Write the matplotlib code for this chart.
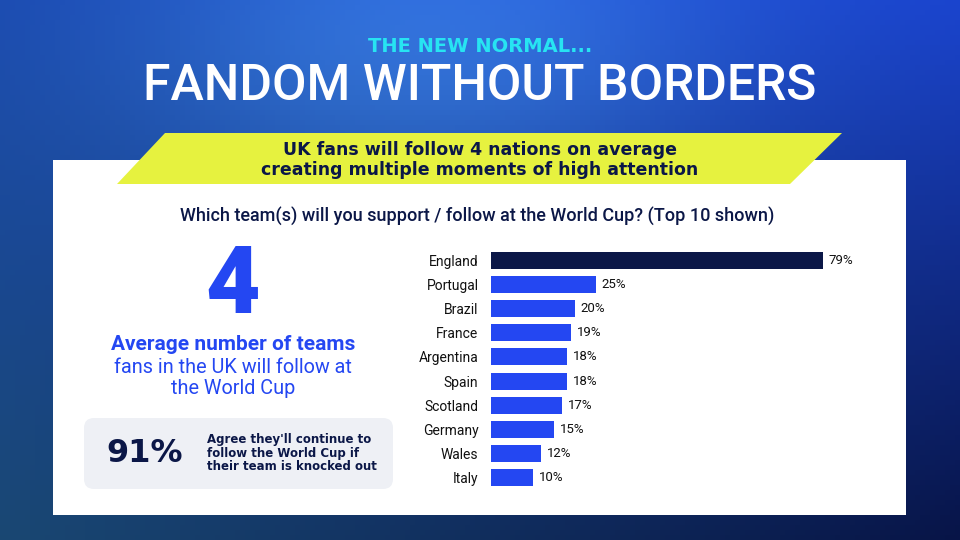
import numpy as np
import matplotlib
matplotlib.use("Agg")
import matplotlib.pyplot as plt
from matplotlib.patches import Polygon, FancyBboxPatch, Rectangle

# data
teams = ["England", "Portugal", "Brazil", "France", "Argentina",
         "Spain", "Scotland", "Germany", "Wales", "Italy"]
shares = [79, 25, 20, 19, 18, 18, 17, 15, 12, 10]

kicker = "THE NEW NORMAL..."
title = "FANDOM WITHOUT BORDERS"
banner = "UK fans will follow 4 nations on average\ncreating multiple moments of high attention"
question = "Which team(s) will you support / follow at the World Cup? (Top 10 shown)"
big_number = "4"
avg_bold = "Average number of teams"
avg_rest = "fans in the UK will follow at\nthe World Cup"
stat_value = "91%"
stat_text = "Agree they'll continue to\nfollow the World Cup if\ntheir team is knocked out"

NAVY = "#0b1747"
BLUE = "#2447f2"
W, H = 960, 540

plt.rcParams["font.family"] = ["Roboto", "DejaVu Sans"]

fig = plt.figure(figsize=(9.6, 5.4), dpi=100)

# full-figure canvas in pixel coordinates
bg = fig.add_axes([0, 0, 1, 1])
bg.set_xlim(0, W)
bg.set_ylim(H, 0)
bg.axis("off")

# background gradient: bright blue top middle, dark navy bottom right
yy, xx = np.mgrid[0:1:108j, 0:1:192j]
c_tl = np.array([0.10, 0.28, 0.68])
c_tr = np.array([0.10, 0.26, 0.80])
c_bl = np.array([0.10, 0.28, 0.45])
c_br = np.array([0.03, 0.08, 0.28])
img = ((1 - xx)[..., None] * (1 - yy)[..., None] * c_tl
       + xx[..., None] * (1 - yy)[..., None] * c_tr
       + (1 - xx)[..., None] * yy[..., None] * c_bl
       + xx[..., None] * yy[..., None] * c_br)
glow = np.exp(-(((xx - 0.45) / 0.32) ** 2 + ((yy - 0.08) / 0.3) ** 2))
img = img + glow[..., None] * np.array([0.10, 0.18, 0.15])
bg.imshow(np.clip(img, 0, 1), extent=[0, W, H, 0], aspect="auto", zorder=0)

# white panel
bg.add_patch(Rectangle((53, 160), 853, 355, facecolor="white", edgecolor="none", zorder=1))

# yellow banner
bg.add_patch(Polygon([(165, 133), (842, 133), (790, 184), (117, 184)],
                     closed=True, facecolor="#e6f23f", edgecolor="none", zorder=2))

# headings
bg.text(480, 46, kicker, ha="center", va="center", color="#27e4f2",
        fontsize=14, fontweight="bold", family=["DejaVu Sans"], zorder=3)
bg.text(480, 86, title, ha="center", va="center", color="white",
        fontsize=36, fontweight="medium", zorder=3)
bg.text(480, 160, banner, ha="center", va="center", color=NAVY,
        fontsize=12.5, fontweight="bold", linespacing=1.15,
        family=["DejaVu Sans"], zorder=3)
bg.text(477, 216, question, ha="center", va="center", color=NAVY,
        fontsize=13, fontweight="medium", zorder=3)

# left side stats
bg.text(233, 287, big_number, ha="center", va="center", color=BLUE,
        fontsize=68, fontweight="black", zorder=3)
bg.text(233, 345, avg_bold, ha="center", va="center", color=BLUE,
        fontsize=15, fontweight="bold", zorder=3)
bg.text(233, 378, avg_rest, ha="center", va="center", color=BLUE,
        fontsize=14.3, linespacing=1.1, zorder=3)

bg.add_patch(FancyBboxPatch((84, 418), 309, 71, boxstyle="round,pad=0,rounding_size=10",
                            facecolor="#eef0f5", edgecolor="none", zorder=2))
bg.text(145, 453, stat_value, ha="center", va="center", color=NAVY,
        fontsize=23, fontweight="bold", family=["DejaVu Sans"], zorder=3)
bg.text(207, 453, stat_text, ha="left", va="center", color=NAVY,
        fontsize=8.5, fontweight="bold", linespacing=1.0,
        family=["DejaVu Sans"], zorder=3)

# bar chart
ax = fig.add_axes([491 / W, 1 - 490 / H, 420 / W, 242 / H])
ax.set_xlim(0, 100)
ax.set_ylim(len(teams) - 0.5, -0.5)
colors = [NAVY] + [BLUE] * (len(teams) - 1)
y = np.arange(len(teams))
ax.barh(y, shares, height=0.7, color=colors)
for yi, v in zip(y, shares):
    ax.text(v + 1.4, yi, f"{v}%", va="center", ha="left", fontsize=9.5, color="#111111")
ax.set_yticks(y)
ax.set_yticklabels(teams, fontsize=10, color="#111111")
ax.tick_params(axis="y", length=0, pad=9)
ax.set_xticks([])
for s in ax.spines.values():
    s.set_visible(False)
ax.patch.set_alpha(0)

fig.savefig("out.png", dpi=100)
